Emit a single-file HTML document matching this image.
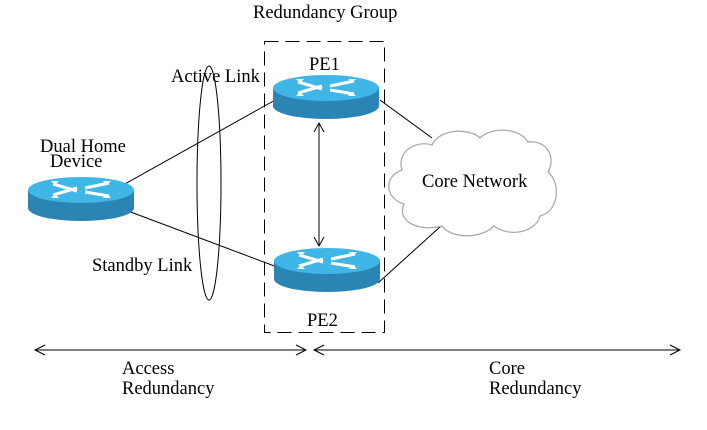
<!DOCTYPE html>
<html><head><style>body{margin:0;background:#fff}svg{display:block}text{font-family:"Liberation Serif",serif;font-size:18.5px;fill:#000}</style></head><body>
<svg width="707" height="430" viewBox="0 0 707 430" xmlns="http://www.w3.org/2000/svg">
<defs>
<g id="r">
<path d="M-53,0 L-53,18 A53,13 0 0 0 53,18 L53,0 Z" fill="#2a84b4"/>
<ellipse cx="0" cy="0" rx="53" ry="13" fill="#3fb6e6"/>
<g stroke="#fff" stroke-width="3" fill="none">
<path d="M-28,-6 L-4,1 M-28,5 L-4,-2 M4,-2 L28,-7 M4,2 L28,6"/>
</g>
<path d="M-30,-9 l8,0 l-4,4z M30,-9 l-8,0 l4,4z M-30,8 l8,0 l-4,-4z M30,8 l-8,0 l4,-4z" fill="#fff"/>
</g>
</defs>
<rect x="264.5" y="41.5" width="120" height="291" fill="none" stroke="#000" stroke-dasharray="14,7"/>
<g stroke="#000" stroke-width="1" fill="none">
<line x1="123" y1="185" x2="277" y2="99"/>
<line x1="128" y1="211" x2="277" y2="267"/>
<line x1="380" y1="100" x2="432" y2="138"/>
<line x1="378" y1="283" x2="441" y2="226"/>
<ellipse cx="209" cy="183" rx="12" ry="117"/>
<line x1="319" y1="124" x2="319" y2="245"/>
<path d="M314,132 L319,123 L324,132 M314,237 L319,246 L324,237"/>
<line x1="35" y1="350" x2="306" y2="350"/>
<path d="M45,345 L35,350 L45,355 M296,345 L306,350 L296,355"/>
<line x1="314" y1="350" x2="680" y2="350"/>
<path d="M324,345 L314,350 L324,355 M670,345 L680,350 L670,355"/>
</g>
<path d="M432,145 C440,128 470,128 480,138 C492,126 520,128 528,142 C548,140 556,158 548,172 C562,184 558,212 540,216 C536,232 510,238 494,226 C480,240 450,238 442,226 C420,232 396,222 404,204 C384,198 384,176 402,170 C396,150 418,140 432,145 Z" fill="#fff" stroke="#aaa" stroke-width="1.3"/>
<use href="#r" x="81" y="190"/>
<use href="#r" x="326" y="88"/>
<use href="#r" x="327" y="261"/>
<text x="253" y="18">Redundancy Group</text>
<text x="171" y="82">Active Link</text>
<text x="309" y="70">PE1</text>
<text x="40" y="152">Dual Home</text>
<text x="50" y="167">Device</text>
<text x="422" y="187">Core Network</text>
<text x="92" y="271">Standby Link</text>
<text x="307" y="326">PE2</text>
<text x="122" y="374">Access</text>
<text x="122" y="394">Redundancy</text>
<text x="489" y="374">Core</text>
<text x="489" y="394">Redundancy</text>
</svg>
</body></html>
